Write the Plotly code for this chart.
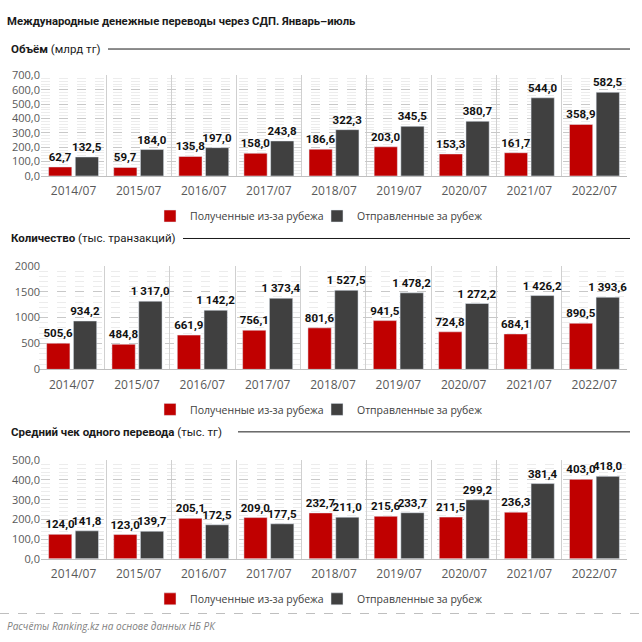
import plotly.graph_objects as go

categories = ["2014/07", "2015/07", "2016/07", "2017/07", "2018/07",
              "2019/07", "2020/07", "2021/07", "2022/07"]

volume_received = [62.7, 59.7, 135.8, 158.0, 186.6, 203.0, 153.3, 161.7, 358.9]
volume_sent = [132.5, 184.0, 197.0, 243.8, 322.3, 345.5, 380.7, 544.0, 582.5]

count_received = [505.6, 484.8, 661.9, 756.1, 801.6, 941.5, 724.8, 684.1, 890.5]
count_sent = [934.2, 1317.0, 1142.2, 1373.4, 1527.5, 1478.2, 1272.2, 1426.2, 1393.6]

avg_received = [124.0, 123.0, 205.1, 209.0, 232.7, 215.6, 211.5, 236.3, 403.0]
avg_sent = [141.8, 139.7, 172.5, 177.5, 211.0, 233.7, 299.2, 381.4, 418.0]

series_names = ["Полученные из-за рубежа", "Отправленные за рубеж"]

RED = "#C00000"
DARK = "#404040"
FONT = "Open Sans"
BOLDF = "Roboto"

W = H = 642

def py(pix):
    return 1 - pix / H

fig = go.Figure()

panels = [
    (volume_received, volume_sent, "x", "y", "legend"),
    (count_received, count_sent, "x2", "y2", "legend2"),
    (avg_received, avg_sent, "x3", "y3", "legend3"),
]

for rec, sent, xa, ya, lg in panels:
    for vals, name, col in [(rec, series_names[0], RED), (sent, series_names[1], DARK)]:
        fig.add_trace(go.Bar(
            x=categories, y=vals, name=name, marker_color=col,
            xaxis=xa, yaxis=ya, legend=lg,
            text=vals, texttemplate="%{y:,.1f}", textposition="outside",
            textfont=dict(family=BOLDF, size=11.5, color="#111111", weight="bold"),
            constraintext="none", cliponaxis=False, hoverinfo="skip",
        ))

xdom = [41 / W, 627 / W]
common_x = dict(type="category", tickson="boundaries", showgrid=True,
                gridcolor="#d0d0d0", gridwidth=1, ticks="", showline=True,
                linecolor="#bfbfbf", tickfont=dict(family=FONT, size=12, color="#595959"),
                ticklabelstandoff=4, fixedrange=True)

def yaxis(domain, rng, dtick, fmt, minor_dtick):
    return dict(domain=domain, range=rng, dtick=dtick, tickformat=fmt,
                showgrid=True, gridcolor="#c8c8c8", griddash="dash", gridwidth=1,
                minor=dict(dtick=minor_dtick, showgrid=True, gridcolor="#ececec", gridwidth=1),
                zeroline=False, showline=False, ticks="",
                tickfont=dict(family=FONT, size=11, color="#595959"), fixedrange=True)

fig.update_layout(
    width=W, height=H, margin=dict(l=0, r=0, t=0, b=0),
    paper_bgcolor="white", plot_bgcolor="white",
    separators=", ", barmode="group", bargap=0.18, bargroupgap=0.13,
    font=dict(family=FONT),
    xaxis=dict(domain=xdom, anchor="y", **common_x),
    xaxis2=dict(domain=[39 / W, 627 / W], anchor="y2", **common_x),
    xaxis3=dict(domain=xdom, anchor="y3", **common_x),
    yaxis=yaxis([py(172), py(69)], [0, 700], 100, ".1f", 20),
    yaxis2=yaxis([py(370), py(264)], [0, 2000], 500, "d", 100),
    yaxis3=yaxis([py(564), py(463)], [0, 500], 100, ".1f", 20),
)

leg_common = dict(orientation="h", xanchor="left", x=150 / W, yanchor="middle",
                  font=dict(family=FONT, size=10.5, color="#404040"),
                  itemclick=False, itemdoubleclick=False, itemwidth=30,
                  entrywidth=122, bgcolor="rgba(0,0,0,0)")
fig.update_layout(
    legend=dict(y=py(213), **leg_common),
    legend2=dict(y=py(411), **leg_common),
    legend3=dict(y=py(605), **leg_common),
)

# Title
fig.add_annotation(text="<b>Международные денежные переводы через СДП. Январь–июль</b>",
                   xref="paper", yref="paper", x=5 / W, y=py(14), xanchor="left", yanchor="middle",
                   showarrow=False, font=dict(family=BOLDF, size=11.3, color="#1a1a1a"))

headings = [
    ("<b>Объём</b> (млрд тг)", 42, 108),
    ("<b>Количество</b> (тыс. транзакций)", 236, 183),
    ("<b>Средний чек одного перевода</b> (тыс. тг)", 434, 238),
]
for text, yy, x_line in headings:
    fig.add_annotation(text=text, xref="paper", yref="paper", x=9 / W, y=py(yy),
                       xanchor="left", yanchor="middle", showarrow=False,
                       font=dict(family=BOLDF, size=11.5, color="#1a1a1a"))
    fig.add_shape(type="line", xref="paper", yref="paper", x0=x_line / W, x1=630 / W,
                  y0=py(yy), y1=py(yy), line=dict(color="#1a1a1a", width=1))

fig.add_shape(type="line", xref="paper", yref="paper", x0=0, x1=1, y0=py(620), y1=py(620),
              line=dict(color="#bfbfbf", width=1, dash="dash"))
fig.add_annotation(text="<i>Расчёты Ranking.kz на основе данных НБ РК</i>",
                   xref="paper", yref="paper", x=5 / W, y=py(633), xanchor="left", yanchor="middle",
                   showarrow=False, font=dict(family=FONT, size=10, color="#7f7f7f"))

fig.write_html("out.html", config={"displayModeBar": False},
               post_script="document.body.style.margin='0';")
